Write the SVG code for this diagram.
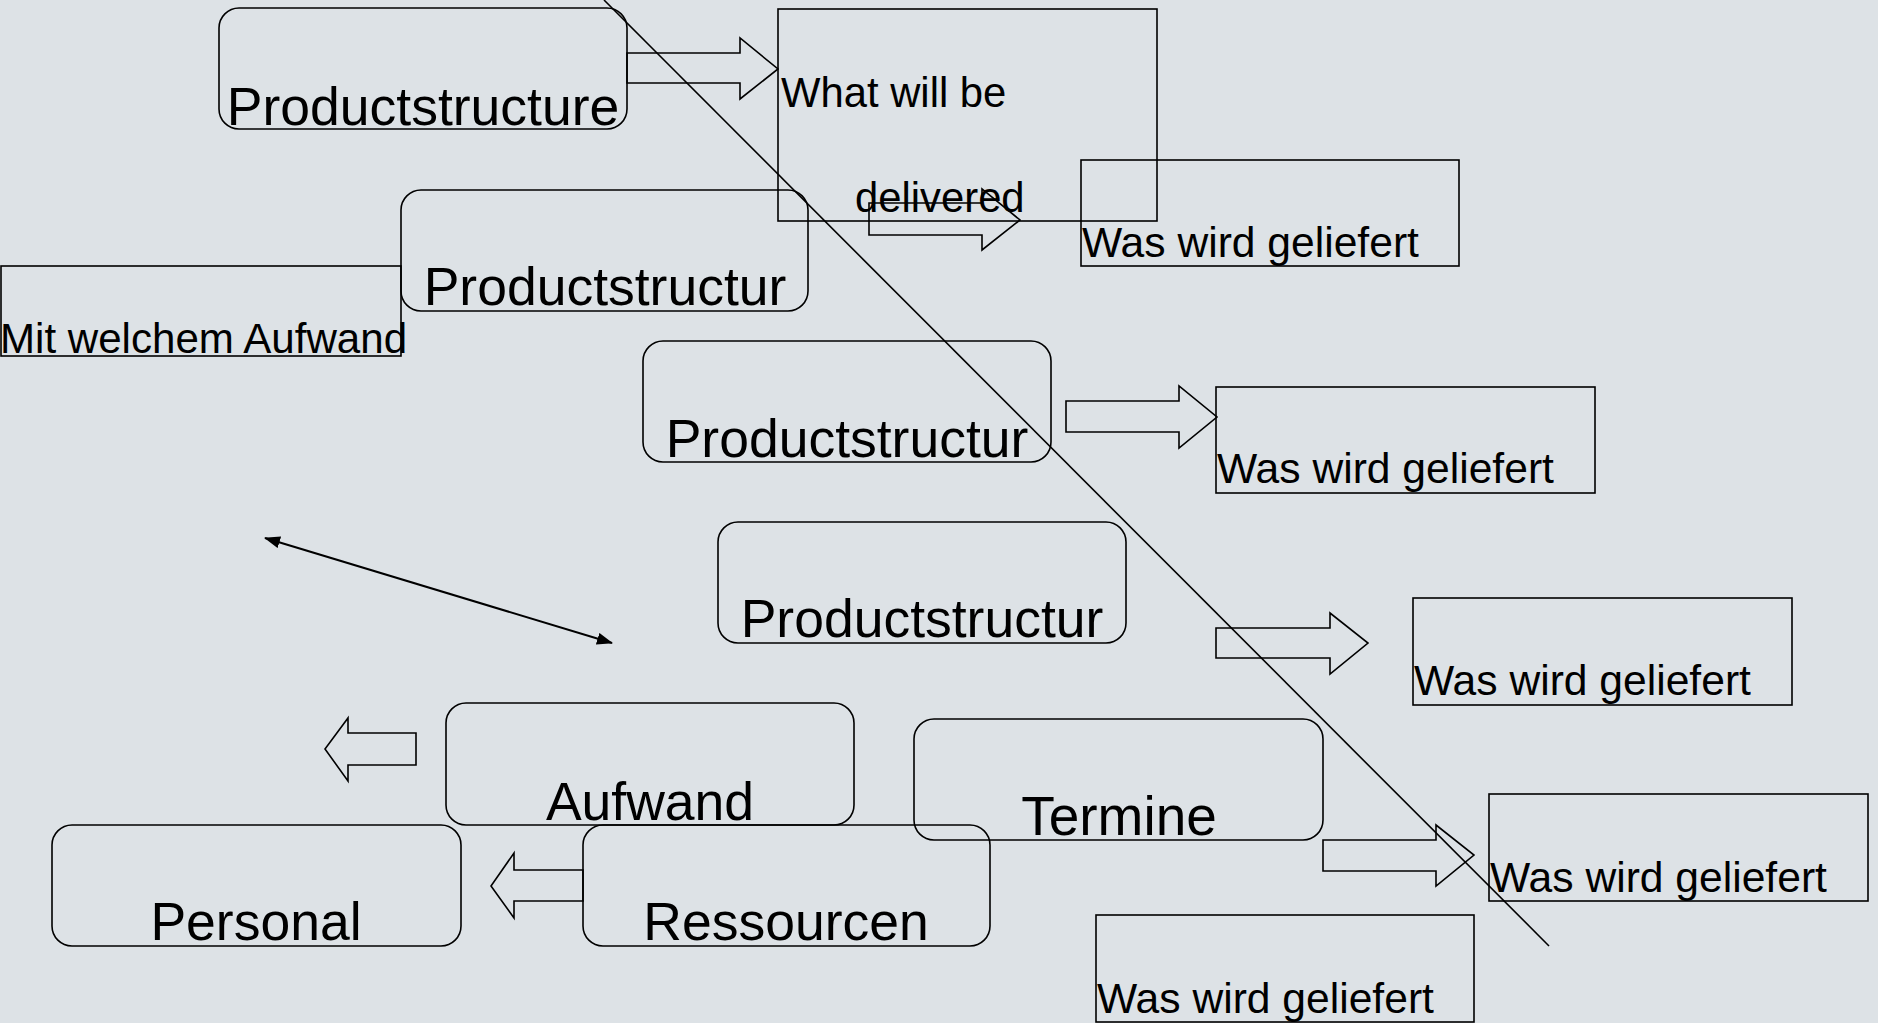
<svg xmlns="http://www.w3.org/2000/svg" width="1878" height="1023" viewBox="0 0 1878 1023">
<style>
.bx{fill:none;stroke:#000;stroke-width:1.6}
.ar{fill:none;stroke:#000;stroke-width:1.6;stroke-linejoin:miter}
.big{font-family:"Liberation Sans",Arial,sans-serif;font-size:53.5px;fill:#000;text-anchor:middle}
.sm{font-family:"Liberation Sans",Arial,sans-serif;font-size:42.6px;fill:#000}
</style>
<defs>
<marker id="ah" markerUnits="userSpaceOnUse" markerWidth="16" markerHeight="12" viewBox="0 0 16 12" refX="15" refY="6" orient="auto-start-reverse"><path d="M0,0 L16,6 L0,12 z" fill="#000"/></marker>
</defs>
<rect width="1878" height="1023" fill="#dde2e6"/>
<g id="n-productstructure-1"><rect class="bx" x="219" y="8" width="408" height="121" rx="20"/><text class="big" x="423" y="125">Productstructure</text></g>
<g id="n-what-delivered"><rect class="bx" x="778" y="9" width="379" height="212"/><text class="sm" x="781" y="107" style="font-size:41.8px">What will be</text><text class="sm" x="855" y="212" style="font-size:41.8px">delivered</text></g>
<g id="n-was-1"><rect class="bx" x="1081" y="160" width="378" height="106"/><text class="sm" x="1082" y="257">Was wird geliefert</text></g>
<g id="n-productstructur-2"><rect class="bx" x="401" y="190" width="407" height="121" rx="20"/><text class="big" x="605" y="305">Productstructur</text></g>
<g id="n-mit-welchem"><rect class="bx" x="1" y="266" width="400" height="90"/><text class="sm" x="0" y="353" style="font-size:42.1px">Mit welchem Aufwand</text></g>
<g id="n-productstructur-3"><rect class="bx" x="643" y="341" width="408" height="121" rx="20"/><text class="big" x="847" y="457">Productstructur</text></g>
<g id="n-was-2"><rect class="bx" x="1216" y="387" width="379" height="106"/><text class="sm" x="1217" y="483">Was wird geliefert</text></g>
<g id="n-productstructur-4"><rect class="bx" x="718" y="522" width="408" height="121" rx="20"/><text class="big" x="922" y="637">Productstructur</text></g>
<g id="n-was-3"><rect class="bx" x="1413" y="598" width="379" height="107"/><text class="sm" x="1414" y="695">Was wird geliefert</text></g>
<g id="n-aufwand"><rect class="bx" x="446" y="703" width="408" height="122" rx="20"/><text class="big" x="650" y="820">Aufwand</text></g>
<g id="n-termine"><rect class="bx" x="914" y="719" width="409" height="121" rx="20"/><text class="big" x="1119" y="835" style="font-size:55px">Termine</text></g>
<g id="n-personal"><rect class="bx" x="52" y="825" width="409" height="121" rx="20"/><text class="big" x="256" y="940">Personal</text></g>
<g id="n-ressourcen"><rect class="bx" x="583" y="825" width="407" height="121" rx="20"/><text class="big" x="786" y="940">Ressourcen</text></g>
<g id="n-was-4"><rect class="bx" x="1489" y="794" width="379" height="107"/><text class="sm" x="1490" y="892">Was wird geliefert</text></g>
<g id="n-was-5"><rect class="bx" x="1096" y="915" width="378" height="107"/><text class="sm" x="1097" y="1013">Was wird geliefert</text></g>
<g id="connectors">
<polygon class="ar" points="627,53 740,53 740,38 778,69 740,99 740,83 627,83"/>
<polygon class="ar" points="869,203 982,203 982,189 1020,220 982,250 982,235 869,235"/>
<polygon class="ar" points="1066,401 1179,401 1179,386 1217,417 1179,448 1179,432 1066,432"/>
<polygon class="ar" points="1216,628 1330,628 1330,613 1368,643 1330,674 1330,658 1216,658"/>
<polygon class="ar" points="1323,840 1436,840 1436,825 1474,855 1436,886 1436,871 1323,871"/>
<polygon class="ar" points="416,733 348,733 348,718 325,749 348,781 348,765 416,765"/>
<polygon class="ar" points="583,870 514,870 514,853 491,886 514,918 514,901 583,901"/>
<line x1="604" y1="0" x2="1549" y2="946" stroke="#000" stroke-width="1.6"/>
<line x1="265" y1="538" x2="612" y2="643" stroke="#000" stroke-width="2" marker-start="url(#ah)" marker-end="url(#ah)"/>
</g>
</svg>
